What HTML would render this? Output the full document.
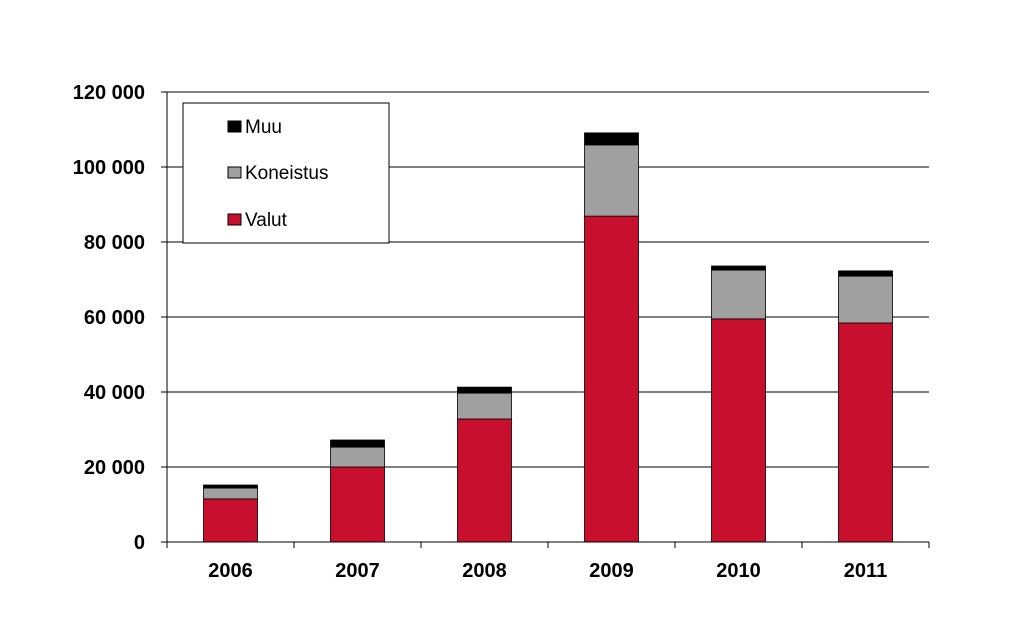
<!DOCTYPE html>
<html><head><meta charset="utf-8"><style>
body{margin:0;background:#fff;}
svg{display:block;font-family:"Liberation Sans",Arial,sans-serif;}
</style></head><body>
<svg id="chart" width="1024" height="626" xmlns="http://www.w3.org/2000/svg">
<g id="grid"></g>
<g id="bars"></g>
<g id="axes"></g>
<g>
<rect x="183" y="103" width="206" height="140" fill="#fff" stroke="#000" stroke-width="1"/>
<g><rect x="228" y="121" width="13" height="11" fill="#000" stroke="#000"/><text x="245" y="133" font-size="19">Muu</text></g>
<g><rect x="228" y="167" width="13" height="11" fill="#a0a0a0" stroke="#000"/><text x="245" y="179" font-size="19">Koneistus</text></g>
<g><rect x="228" y="214" width="13" height="11" fill="#c8102e" stroke="#000"/><text x="245" y="226" font-size="19">Valut</text></g>
</g>
</svg>
<script>
const categories=["2006","2007","2008","2009","2010","2011"];
const valut=[11500,20000,32800,86900,59500,58400];
const koneistus=[2900,5300,6900,19000,13000,12500];
const muu=[800,1900,1600,3200,1100,1400];
const yTicks=[0,20000,40000,60000,80000,100000,120000];
const yTickLabels=["0","20 000","40 000","60 000","80 000","100 000","120 000"];
const NS="http://www.w3.org/2000/svg";
const X0=167,X1=929,Y0=542,Y1=92,YMAX=120000;
const step=(X1-X0)/categories.length, bw=54;
function y(v){return Y0-(v/YMAX)*(Y0-Y1);}
function xc(i){return X0+step*(i+0.5);}
function mk(parent,tag,attrs){const e=document.createElementNS(NS,tag);for(const k in attrs)e.setAttribute(k,attrs[k]);parent.appendChild(e);return e;}
const grid=document.getElementById('grid'),bars=document.getElementById('bars'),axes=document.getElementById('axes');
yTicks.forEach((t,i)=>{
 if(t>0){const l=mk(grid,'line',{x1:X0,x2:X1,y1:y(t),y2:y(t),stroke:'#000','stroke-width':1});
 
 }
 const tk=mk(axes,'line',{x1:X0-6,x2:X0,y1:y(t),y2:y(t),stroke:'#000'});
 
 
 const tx=mk(axes,'text',{x:X0-22,y:y(t)+7,'text-anchor':'end','font-size':20,'font-weight':'bold'});
 tx.textContent=yTickLabels[i];
 
 
});
const series=[[valut,'#c8102e','valut'],[koneistus,'#a0a0a0','koneistus'],[muu,'#000','muu']];
categories.forEach((c,i)=>{
 let base=0;
 series.forEach(([arr,col,nm])=>{
  const v=arr[i];
  const r=mk(bars,'rect',{x:xc(i)-bw/2,y:y(base+v),width:bw,height:y(base)-y(base+v),fill:col,stroke:'#000','stroke-width':0.8});
  
  
  base+=v;
 });
 const tx=mk(axes,'text',{x:xc(i),y:577,'text-anchor':'middle','font-size':20,'font-weight':'bold'});
 tx.textContent=c;
 
 
});
for(let i=0;i<=categories.length;i++){
 const tk=mk(axes,'line',{x1:X0+step*i,x2:X0+step*i,y1:Y0,y2:Y0+6,stroke:'#000'});
 
 
}
const ya=mk(axes,'line',{x1:X0,x2:X0,y1:Y1,y2:Y0,stroke:'#000'});


const xa=mk(axes,'line',{x1:X0,x2:X1,y1:Y0,y2:Y0,stroke:'#000'});


</script>
</body></html>
